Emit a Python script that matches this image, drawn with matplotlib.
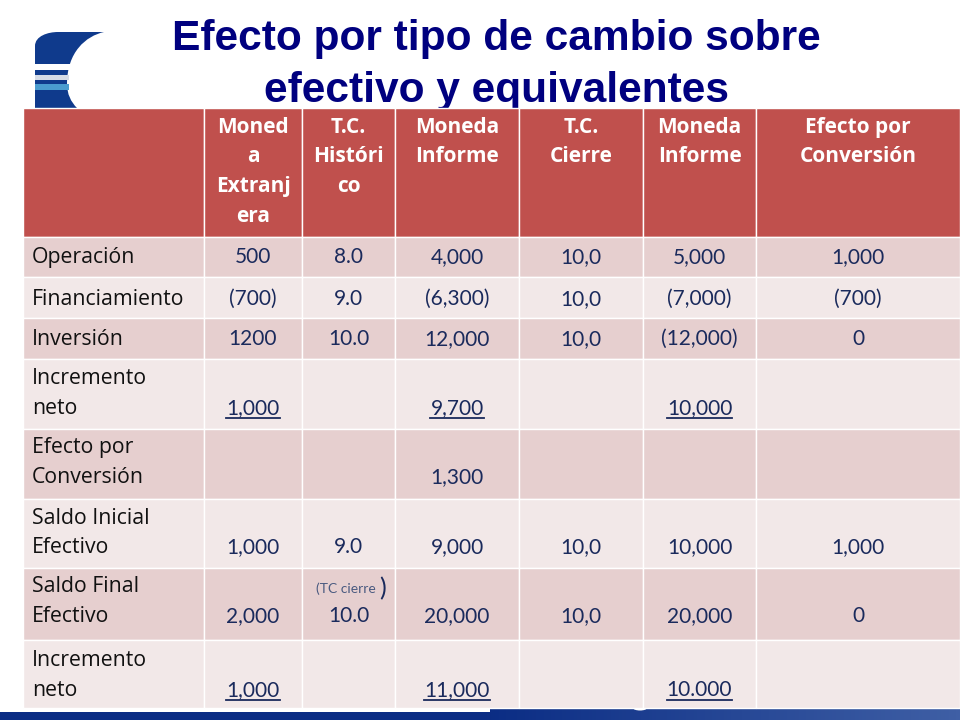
import matplotlib
matplotlib.use("Agg")
import matplotlib.pyplot as plt
import numpy as np
from matplotlib.patches import Rectangle, PathPatch, Ellipse
from matplotlib.path import Path

title_lines = ["Efecto por tipo de cambio sobre", "efectivo y equivalentes"]

headers = ["", "Moned\na\nExtranj\nera", "T.C.\nHistóri\nco", "Moneda\nInforme",
           "T.C.\nCierre", "Moneda\nInforme", "Efecto por\nConversión"]

row_labels = ["Operación", "Financiamiento", "Inversión", "Incremento\nneto",
              "Efecto por\nConversión", "Saldo Inicial\nEfectivo",
              "Saldo Final\nEfectivo", "Incremento\nneto"]

moneda_extranjera = ["500", "(700)", "1200", "1,000", "", "1,000", "2,000", "1,000"]
tc_historico = ["8.0", "9.0", "10.0", "", "", "9.0", "10.0", ""]
informe_historico = ["4,000", "(6,300)", "12,000", "9,700", "1,300", "9,000", "20,000", "11,000"]
tc_cierre = ["10,0", "10,0", "10,0", "", "", "10,0", "10,0", ""]
informe_cierre = ["5,000", "(7,000)", "(12,000)", "10,000", "", "10,000", "20,000", "10.000"]
efecto = ["1,000", "(700)", "0", "", "", "1,000", "0", ""]

underlined_rows = [3, 7]

col_edges = [23, 204, 302, 395, 519, 643, 756, 960]
row_edges = [108, 237, 277, 318, 359, 429, 499, 568, 640, 708]
row_baselines = [263, 305, 345, 414, 483, 553, 622, 696]

RED = "#c0504d"
BAND = "#e6cfcf"
LIGHT = "#f2e8e8"
NAVY = "#00007f"
TEXT = "#1a2a5c"
LOGO = "#0f3a8c"
LINE = 29.5

fig = plt.figure(figsize=(9.6, 7.2), dpi=100)
ax = fig.add_axes([0, 0, 1, 1])

# logo
verts = [(35, 108), (35, 46), (35, 36), (48, 32), (58, 32), (104, 32),
         (86, 36), (67, 52), (67, 84), (67, 94), (71, 102), (77, 108), (35, 108)]
codes = [Path.MOVETO, Path.LINETO, Path.CURVE4, Path.CURVE4, Path.LINETO, Path.LINETO,
         Path.CURVE4, Path.CURVE4, Path.CURVE4, Path.CURVE4, Path.CURVE4, Path.CURVE4, Path.CLOSEPOLY]
ax.add_patch(PathPatch(Path(verts, codes), fc=LOGO, ec="none"))
ax.add_patch(Rectangle((35, 64), 36, 6, fc="white", ec="none"))
ax.add_patch(Rectangle((35, 75), 34, 5, fc="#d5dbe6", ec="none"))
ax.add_patch(Rectangle((35, 84), 34, 6, fc="#4a9ccf", ec="none"))

# bottom band
grad = np.linspace(0, 1, 256).reshape(1, -1)
cmap = matplotlib.colors.LinearSegmentedColormap.from_list("band", ["#0a2c84", "#0a2c84", "#3f5fa5"])
ax.imshow(grad, extent=[0, 960, 720, 708], cmap=cmap, aspect="auto", zorder=0)
ax.add_patch(Rectangle((0, 707), 490, 5, fc="white", ec="none", zorder=0.5))
ax.add_patch(Ellipse((640, 708), 14, 5, fc="white", ec="none", zorder=0.5))
ax.set_xlim(0, 960)
ax.set_ylim(720, 0)
ax.axis("off")

for i, line in enumerate(title_lines):
    ax.text(496, [50, 102][i], line, ha="center", va="baseline", fontsize=30.6,
            fontweight="bold", family="Liberation Sans", color=NAVY, zorder=0.6)

# cells
n_rows = len(row_edges) - 1
for r in range(n_rows):
    for c in range(len(col_edges) - 1):
        fc = RED if r == 0 else (BAND if r % 2 == 1 else LIGHT)
        ax.add_patch(Rectangle((col_edges[c], row_edges[r]), col_edges[c + 1] - col_edges[c],
                               row_edges[r + 1] - row_edges[r], fc=fc, ec="white", lw=1, zorder=1))

# header
for c, head in enumerate(headers):
    xc = (col_edges[c] + col_edges[c + 1]) / 2
    for k, part in enumerate(head.split("\n")):
        ax.text(xc, 133 + k * LINE, part, ha="center", va="baseline", fontsize=15,
                fontweight="bold", family="Open Sans", color="white", zorder=3)

columns = [moneda_extranjera, tc_historico, informe_historico, tc_cierre, informe_cierre, efecto]
renderer = fig.canvas.get_renderer()

for r, label in enumerate(row_labels):
    base = row_baselines[r]
    parts = label.split("\n")
    for k, part in enumerate(parts):
        ax.text(32, base - (len(parts) - 1 - k) * LINE, part, ha="left", va="baseline",
                fontsize=15.3, family="Open Sans", color="#111111", zorder=3)
    for c, col in enumerate(columns):
        if not col[r]:
            continue
        xc = (col_edges[c + 1] + col_edges[c + 2]) / 2
        t = ax.text(xc, base, col[r], ha="center", va="baseline", fontsize=15,
                    family="Lato", color=TEXT, zorder=3)
        if r in underlined_rows:
            bb = t.get_window_extent(renderer)
            ax.plot([bb.x0, bb.x1], [base + 4, base + 4], color=TEXT, lw=1.3, zorder=3)

# small note above the 10.0
xc = (col_edges[2] + col_edges[3]) / 2
ax.text(xc - 3, 593, "(TC cierre", ha="center", va="baseline", fontsize=10, family="Lato", color="#4a5a80", zorder=3)
ax.text(xc + 34, 596, ")", ha="center", va="baseline", fontsize=18, family="Lato", color=TEXT, zorder=3)

fig.savefig("out.png", dpi=100)
